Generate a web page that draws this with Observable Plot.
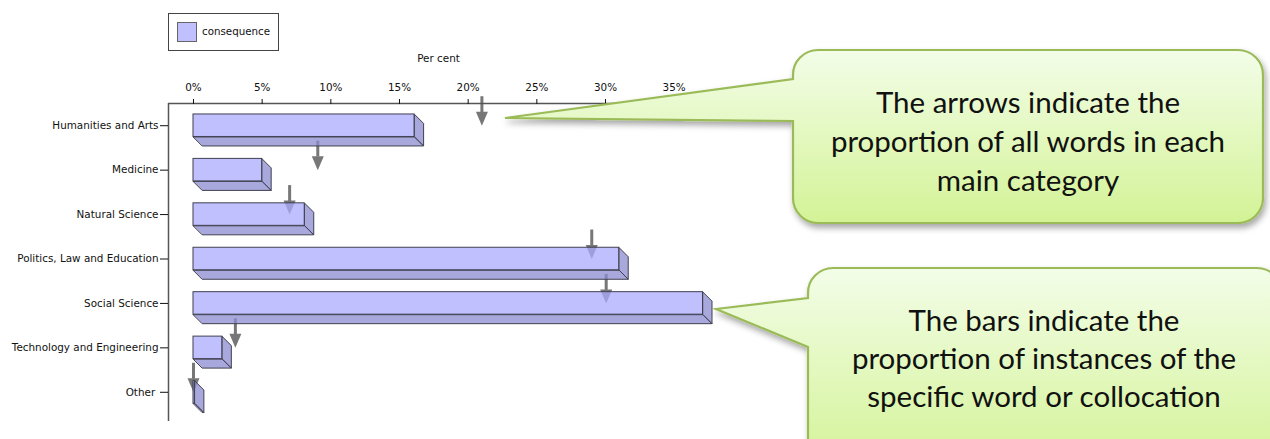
<!DOCTYPE html>
<html><head><meta charset="utf-8">
<script src="https://cdn.jsdelivr.net/npm/d3@7"></script>
<script src="https://cdn.jsdelivr.net/npm/@observablehq/plot@0.6"></script>
<style>
html,body{margin:0;padding:0;background:#fff;}
#wrap{position:relative;width:1270px;height:439px;overflow:hidden;}
#chart svg{display:block;}
#legend{position:absolute;left:168px;top:13px;width:109px;height:36px;border:1px solid #444;background:#fff;font:10.3px "DejaVu Sans",sans-serif;color:#111;}
#legend .sw{position:absolute;left:8px;top:8px;width:18px;height:18px;background:#c0c0ff;border:1px solid #666;}
#legend .lb{position:absolute;left:33px;top:11px;white-space:nowrap;}
#overlay{position:absolute;left:0;top:0;}
</style></head><body>
<div id="wrap"><div id="chart"></div><div id="legend"><div class="sw"></div><div class="lb"></div></div></div>
<script>
const categories = ["Humanities and Arts","Medicine","Natural Science","Politics, Law and Education","Social Science","Technology and Engineering","Other\u00A0"];
const barValues = [16.1, 5.0, 8.1, 31.0, 37.1, 2.1, 0.1];
const arrowValues = [21.0, 9.05, 7.0, 29.0, 30.05, 3.05, 0.0];
const xTicks = [0, 5, 10, 15, 20, 25, 30, 35];
const legendLabel = "consequence";
const axisTitle = "Per cent";
const callout1Lines = ["The arrows indicate the", "proportion of all words in each", "main category"];
const callout2Lines = ["The bars indicate the", "proportion of instances of the", "specific word or collocation"];

const W = 1270, H = 439, mL = 168, mT = 103, mR = 562, mB = 18, insB = 7;
const xDomain = [-1.82, 37.5];
const pxX = (W - mL - mR) / (xDomain[1] - xDomain[0]);
const yDomain = [-0.5, categories.length - 0.5];
const pxY = (H - mT - mB - insB) / (yDomain[1] - yDomain[0]);
const DX = 9 / pxX, DY = 9 / pxY, HH = 11.25 / pxY;

const bars = barValues.map((v, i) => ({i, v}));
const arrows = arrowValues.map((v, i) => ({i, v}));

const faces = [];
bars.forEach(({i, v}) => {
  const yb = i + HH, yt = i - HH;
  [[0, yb], [v, yb], [v + DX, yb + DY], [DX, yb + DY]].forEach(([x, y]) => faces.push({id: "b" + i, x, y}));
  [[v, yt], [v + DX, yt + DY], [v + DX, yb + DY], [v, yb]].forEach(([x, y]) => faces.push({id: "s" + i, x, y}));
});
const heads = [];
arrows.forEach(({i, v}) => {
  [[v - 6 / pxX, i - 14 / pxY], [v + 6 / pxX, i - 14 / pxY], [v, i]].forEach(([x, y]) => heads.push({id: "h" + i, x, y}));
});

const chart = Plot.plot({
  width: W, height: H,
  marginLeft: mL, marginTop: mT, marginRight: mR, marginBottom: mB,
  style: {fontFamily: "DejaVu Sans, sans-serif", fontSize: "10.4px", color: "#111", background: "transparent"},
  x: {domain: xDomain, label: null},
  y: {domain: yDomain, reverse: true, insetBottom: insB, label: null},
  marks: [
    Plot.ruleX(arrows, {x: "v", y1: d => d.i - 29 / pxY, y2: d => d.i - 13 / pxY, stroke: "#777", strokeWidth: 3}),
    Plot.line(heads, {x: "x", y: "y", z: "id", curve: "linear-closed", fill: "#777", stroke: "none"}),
    Plot.line(faces, {x: "x", y: "y", z: "id", curve: "linear-closed", fill: "rgb(139,139,208)", fillOpacity: 0.75, stroke: "#404050", strokeWidth: 1, strokeLinejoin: "round"}),
    Plot.rect(bars, {x1: 0, x2: "v", y1: d => d.i - HH, y2: d => d.i + HH, fill: "rgb(171,171,255)", fillOpacity: 0.75, stroke: "#404050", strokeWidth: 1}),
    Plot.ruleY([yDomain[0]], {stroke: "#555", strokeWidth: 1.5}),
    Plot.ruleX([xDomain[0]], {stroke: "#555", strokeWidth: 1.5}),
    Plot.axisX({anchor: "top", ticks: xTicks, tickFormat: d => d + "%", tickSize: 5, tickPadding: 8, label: null}),
    Plot.text([axisTitle], {frameAnchor: "top", dy: -49, fontSize: 10.4, fill: "#111"}),
    Plot.axisY({anchor: "left", ticks: d3.range(categories.length), tickFormat: i => categories[i], tickSize: 8, tickPadding: 2, label: null})
  ]
});
document.getElementById("chart").appendChild(chart);
document.querySelector("#legend .lb").textContent = legendLabel;

// Callout overlay
const ov = d3.select("#wrap").append("svg").attr("id", "overlay").attr("width", W).attr("height", H);
const defs = ov.append("defs");
const g = defs.append("linearGradient").attr("id", "grad").attr("x1", 0).attr("y1", 0).attr("x2", 0).attr("y2", 1);
g.append("stop").attr("offset", "0%").attr("stop-color", "#f3fde8");
g.append("stop").attr("offset", "100%").attr("stop-color", "#d3f396");
const f = defs.append("filter").attr("id", "shadow").attr("x", "-10%").attr("y", "-10%").attr("width", "130%").attr("height", "140%");
f.append("feDropShadow").attr("dx", 2).attr("dy", 4).attr("stdDeviation", 3).attr("flood-color", "#000").attr("flood-opacity", 0.35);

function callout(box, tip, j1, j2, r) {
  const [x0, y0, x1, y1] = box;
  return `M${x0 + r},${y0} H${x1 - r} A${r},${r} 0 0 1 ${x1},${y0 + r} V${y1 - r} A${r},${r} 0 0 1 ${x1 - r},${y1} H${x0 + r} A${r},${r} 0 0 1 ${x0},${y1 - r} V${j2} L${tip[0]},${tip[1]} L${x0},${j1} V${y0 + r} A${r},${r} 0 0 1 ${x0 + r},${y0} Z`;
}
const callouts = [
  {box: [793, 50, 1263, 223], tip: [505, 118], j1: 79, j2: 121, lines: callout1Lines, cx: 1028, y0: 101, dy: 39},
  {box: [808, 268, 1282, 470], tip: [716, 309], j1: 298, j2: 347, lines: callout2Lines, cx: 1044, y0: 319, dy: 38}
];
callouts.forEach(c => {
  ov.append("path").attr("d", callout(c.box, c.tip, c.j1, c.j2, 25))
    .attr("fill", "url(#grad)").attr("stroke", "#9bbb59").attr("stroke-width", 2.2).attr("filter", "url(#shadow)");
  ov.append("g").selectAll("text").data(c.lines).join("text")
    .attr("x", c.cx).attr("y", (d, k) => c.y0 + k * c.dy)
    .attr("text-anchor", "middle").attr("dominant-baseline", "central")
    .attr("font-family", "Lato, sans-serif").attr("font-size", 29.5).attr("fill", "#111")
    .text(d => d);
});
</script>
</body></html>
